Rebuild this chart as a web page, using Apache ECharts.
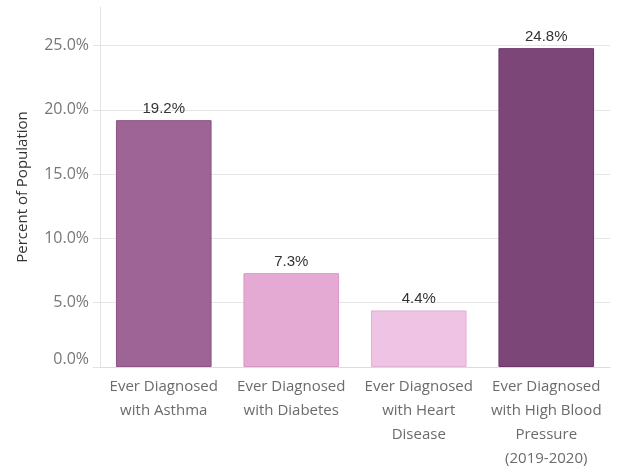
<!DOCTYPE html>
<html>
<head>
<meta charset="utf-8">
<script src="https://cdn.jsdelivr.net/npm/echarts@6/dist/echarts.min.js"></script>
<style>html,body{margin:0;padding:0;background:#fff;}#c{width:639px;height:469px;}</style>
</head>
<body>
<div id="c"></div>
<script>
const categories = [
  "Ever Diagnosed\nwith Asthma",
  "Ever Diagnosed\nwith Diabetes",
  "Ever Diagnosed\nwith Heart\nDisease",
  "Ever Diagnosed\nwith High Blood\nPressure\n(2019-2020)"
];
const values = [19.2, 7.3, 4.4, 24.8];
const barColors = ["#9d6495", "#e5aad4", "#efc3e4", "#7c4678"];
const borderColors = ["#8a5383", "#d898c6", "#e3b0d6", "#6a3566"];
const yAxisName = "Percent of Population";

const chart = echarts.init(document.getElementById('c'), null, {renderer: 'canvas'});
chart.setOption({
  animation: false,
  grid: {left: 100, right: 29, top: 7, bottom: 102, containLabel: false, outerBoundsMode: 'none'},
  xAxis: {
    type: 'category',
    data: categories,
    axisLine: {show: true, lineStyle: {color: '#dcdcdc'}},
    axisTick: {show: false},
    axisLabel: {
      color: '#6b6b6b', fontSize: 15, fontFamily: 'Open Sans', lineHeight: 24,
      margin: 8, interval: 0
    }
  },
  yAxis: {
    type: 'value',
    min: 0, max: 28, interval: 5,
    name: yAxisName,
    nameLocation: 'middle',
    nameGap: 70,
    nameTextStyle: {color: '#333', fontSize: 15, fontFamily: 'Open Sans'},
    axisLine: {show: true, lineStyle: {color: '#e3e3e3'}},
    axisTick: {show: true, length: 7, lineStyle: {color: '#e3e3e3'}},
    axisLabel: {
      color: '#777', fontSize: 16, fontFamily: 'Open Sans', margin: 11,
      showMaxLabel: false,
      verticalAlignMinLabel: 'bottom',
      formatter: function (v) { return (v % 5 === 0) ? v.toFixed(1) + '%' : ''; }
    },
    splitLine: {show: true, showMaxLine: false, lineStyle: {color: '#e6e6e6'}}
  },
  series: [{
    type: 'bar',
    data: values.map((v, i) => ({
      value: v,
      itemStyle: {color: barColors[i], borderColor: borderColors[i], borderWidth: 1}
    })),
    barCategoryGap: '25%',
    label: {
      show: true, position: 'top', distance: 4,
      color: '#333', fontSize: 15, fontFamily: 'Liberation Sans',
      formatter: p => p.value.toFixed(1) + '%'
    }
  }]
});
</script>
</body>
</html>
